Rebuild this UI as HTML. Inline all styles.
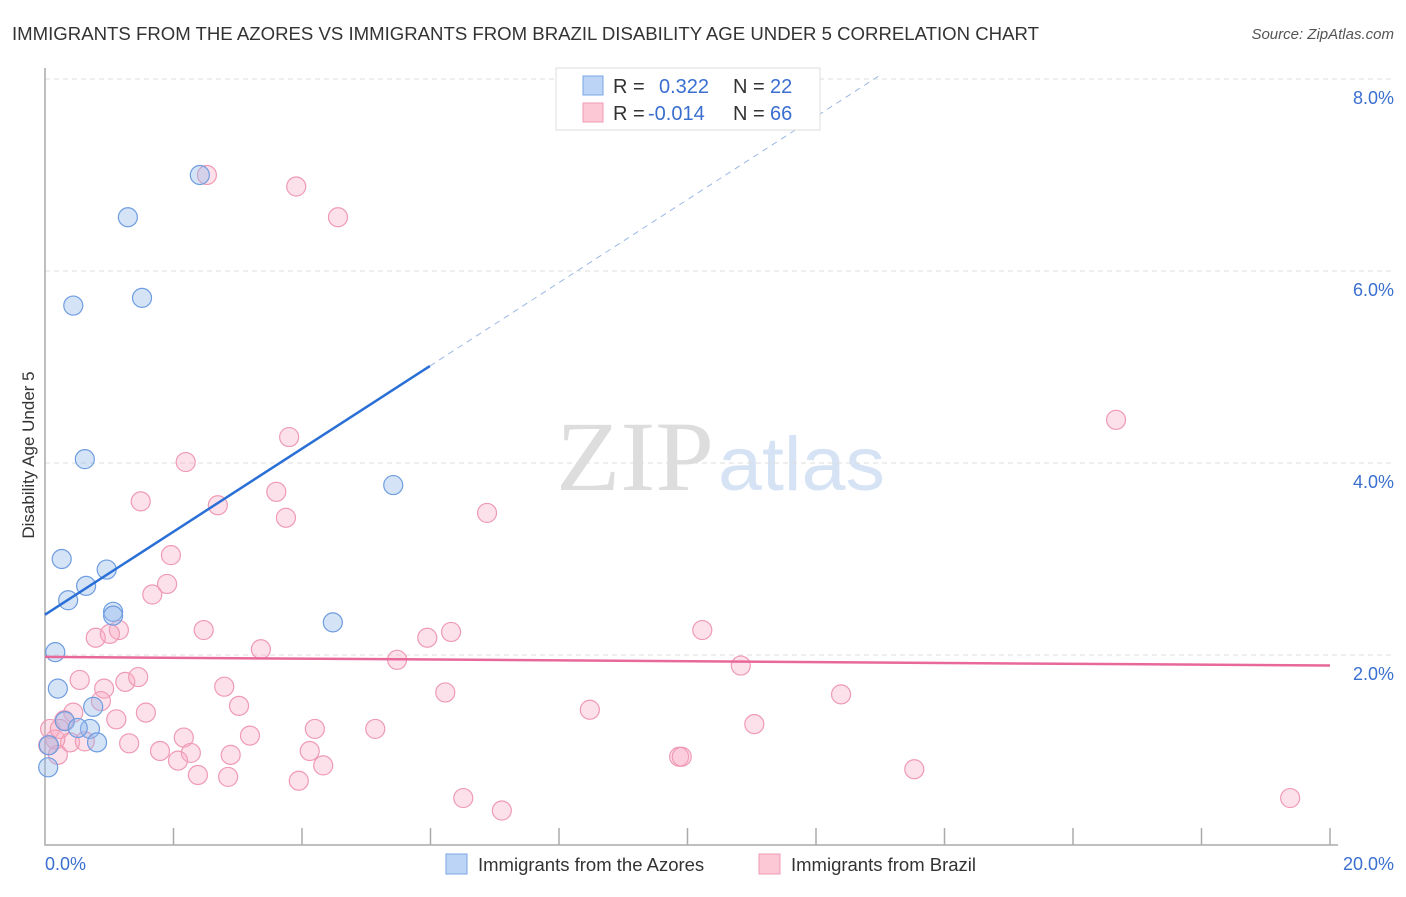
<!DOCTYPE html>
<html><head><meta charset="utf-8"><style>
body{margin:0;background:#fff;font-family:"Liberation Sans",sans-serif;}
</style></head><body>
<svg width="1406" height="892" xmlns="http://www.w3.org/2000/svg">
<text x="12" y="40" font-size="18.6" fill="#333">IMMIGRANTS FROM THE AZORES VS IMMIGRANTS FROM BRAZIL DISABILITY AGE UNDER 5 CORRELATION CHART</text>
<text x="1394" y="39" font-size="15" fill="#555" font-style="italic" text-anchor="end">Source: ZipAtlas.com</text>
<text x="714" y="490" font-size="100" fill="#ddd" font-family="Liberation Serif" text-anchor="end" textLength="158" lengthAdjust="spacingAndGlyphs">ZIP</text>
<text x="718" y="490" font-size="76" fill="#d5e3f5" textLength="167" lengthAdjust="spacingAndGlyphs">atlas</text>
<g id="grid"></g>
<g id="axes"></g>
<g id="marks"></g>
<text transform="translate(34,455) rotate(-90)" font-size="17" fill="#333" text-anchor="middle">Disability Age Under 5</text>
<text x="45" y="870" font-size="18" fill="#3a6fd0">0.0%</text>
<text x="1394" y="870" font-size="18" fill="#3a6fd0" text-anchor="end">20.0%</text>
<g>
<rect x="556" y="68" width="264" height="62" fill="#fff" stroke="#ddd"/>
<rect x="583" y="76" width="20" height="19" fill="#bcd4f5" stroke="#7aa6e6"/>
<rect x="583" y="103" width="20" height="19" fill="#fcc8d6" stroke="#f09ab3"/>
<text x="613" y="93" font-size="20" fill="#333">R =</text>
<text x="659" y="93" font-size="20" fill="#3a6fd0">0.322</text>
<text x="733" y="93" font-size="20" fill="#333">N =</text>
<text x="770" y="93" font-size="20" fill="#3a6fd0">22</text>
<text x="613" y="120" font-size="20" fill="#333">R =</text>
<text x="648" y="120" font-size="20" fill="#3a6fd0">-0.014</text>
<text x="733" y="120" font-size="20" fill="#333">N =</text>
<text x="770" y="120" font-size="20" fill="#3a6fd0">66</text>
</g>
<g>
<rect x="446" y="854" width="21" height="20" fill="#bcd4f5" stroke="#7aa6e6"/>
<text x="478" y="871" font-size="18.5" fill="#333">Immigrants from the Azores</text>
<rect x="759" y="854" width="21" height="20" fill="#fcc8d6" stroke="#f09ab3"/>
<text x="791" y="871" font-size="18.5" fill="#333">Immigrants from Brazil</text>
</g>
</svg>
<script>
const yTicks=[2,4,6,8];
const yTickLabels=["2.0%","4.0%","6.0%","8.0%"];
const xTicks=[2,4,6,8,10,12,14,16,18,20];
const azoresX=[2.41,1.29,0.44,1.51,0.62,5.42,0.26,0.96,0.36,0.64,1.06,1.06,4.48,0.16,0.20,0.75,0.31,0.70,0.81,0.06,0.05,0.51];
const azoresY=[7.0,6.56,5.64,5.72,4.04,3.77,3.00,2.89,2.57,2.72,2.45,2.41,2.34,2.03,1.65,1.46,1.31,1.23,1.09,1.06,0.83,1.24];
const brazilX=[2.52,3.91,4.56,3.80,2.19,1.49,2.69,3.60,3.75,6.88,16.67,1.96,1.90,1.67,1.15,0.79,1.01,2.47,3.36,5.95,6.32,10.23,5.48,10.83,6.23,12.39,2.79,0.54,0.92,1.25,1.45,0.87,3.02,8.48,11.04,1.57,1.11,0.44,0.30,4.20,5.14,3.19,2.16,1.31,0.39,0.62,1.79,2.27,2.89,2.07,4.12,4.33,9.87,9.91,13.53,2.38,2.85,3.95,6.51,7.11,19.38,0.08,0.16,0.20,0.05,0.23];
const brazilY=[7.0,6.88,6.56,4.27,4.01,3.60,3.56,3.70,3.43,3.48,4.45,3.04,2.74,2.63,2.26,2.18,2.22,2.26,2.06,2.18,2.24,2.26,1.95,1.89,1.61,1.59,1.67,1.74,1.65,1.72,1.77,1.52,1.47,1.43,1.28,1.40,1.33,1.40,1.32,1.23,1.23,1.16,1.14,1.08,1.09,1.10,1.0,0.98,0.96,0.90,1.0,0.85,0.94,0.94,0.81,0.75,0.73,0.69,0.51,0.38,0.51,1.23,1.12,0.96,1.06,1.23];
const azTrend=[2.42,5.01]; // y at x=0, x=5.99
const brTrend=[1.98,1.89]; // y at x=0, x=20
const X=v=>45+v*64.25, Y=v=>847-v*96;
const NS="http://www.w3.org/2000/svg";
function mk(p,t,a){const e=document.createElementNS(NS,t);for(const k in a)e.setAttribute(k,a[k]);p.appendChild(e);return e;}
const grid=document.getElementById('grid'),axes=document.getElementById('axes'),marks=document.getElementById('marks');
yTicks.forEach((t,i)=>{
 const l=mk(grid,'line',{x1:45,x2:1394,y1:Y(t),y2:Y(t),stroke:'#ddd','stroke-dasharray':'5,4'});
 
 
 const tx=mk(grid,'text',{x:1394,y:Y(t)+25,'font-size':18,fill:'#3a6fd0','text-anchor':'end'});
 tx.textContent=yTickLabels[i];
 
 
});
const ax=mk(axes,'path',{d:'M45 68 V845 H1338',stroke:'#aaa',fill:'none','stroke-width':1.5});


xTicks.forEach(t=>{
 const l=mk(axes,'line',{x1:X(t),x2:X(t),y1:828,y2:845,stroke:'#aaa','stroke-width':1.5});
 
 
});
brazilX.forEach((x,i)=>{
 const c=mk(marks,'circle',{cx:X(x),cy:Y(brazilY[i]),r:9.5,fill:'rgba(248,170,195,0.35)',stroke:'#ef9ab4','stroke-width':1.2});
 
 
});
azoresX.forEach((x,i)=>{
 const c=mk(marks,'circle',{cx:X(x),cy:Y(azoresY[i]),r:9.5,fill:'rgba(150,185,235,0.4)',stroke:'#6e9de0','stroke-width':1.2});
 
 
});
const slope=(azTrend[1]-azTrend[0])/5.99;
const xEnd=(8.05-azTrend[0])/slope;
const d1=mk(marks,'line',{x1:X(5.99),y1:Y(azTrend[1]),x2:X(xEnd),y2:Y(8.05),stroke:'#9bb8e6','stroke-width':1,'stroke-dasharray':'6,5'});


const t1=mk(marks,'line',{x1:X(0),y1:Y(azTrend[0]),x2:X(5.99),y2:Y(azTrend[1]),stroke:'#2a6fd6','stroke-width':2.5});


const t2=mk(marks,'line',{x1:X(0),y1:Y(brTrend[0]),x2:X(20),y2:Y(brTrend[1]),stroke:'#e8689a','stroke-width':2.5});


</script>
</body></html>
